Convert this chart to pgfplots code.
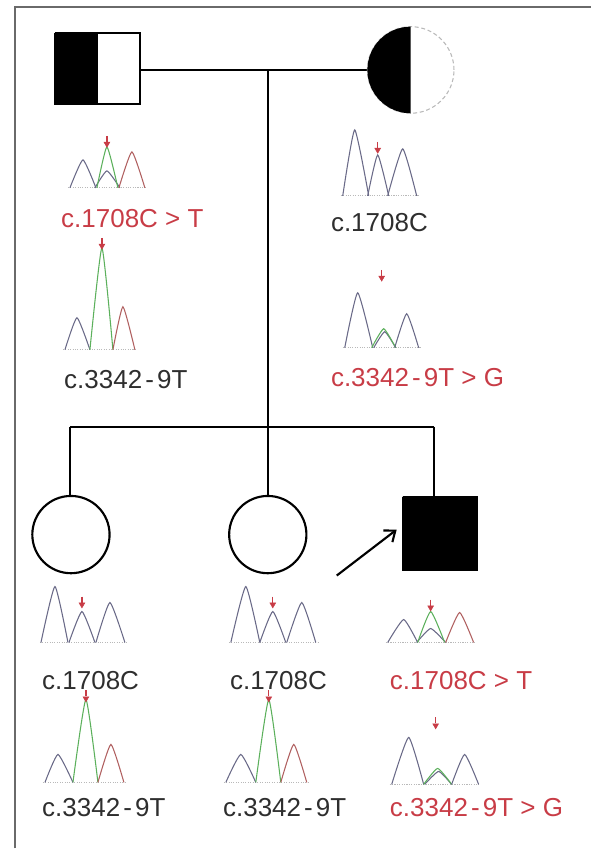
\documentclass[border=0pt]{standalone}
\usepackage{pgfplots}
\pgfplotsset{compat=1.18}
\usetikzlibrary{arrows.meta}
\usepackage{fontspec}
\setmainfont{Liberation Sans}
\definecolor{txt}{HTML}{2E2E2E}
\definecolor{mred}{HTML}{C83C46}
\definecolor{trgray}{HTML}{6A6A88}
\definecolor{trgreen}{HTML}{5CB05C}
\definecolor{trred}{HTML}{B06060}
\definecolor{framec}{HTML}{6A6A6A}
\pgfplotsset{
  peak/.style={line width=0.8pt, smooth, tension=0.3, no marks},
  gp/.style={peak, draw=trgray},
  gn/.style={peak, draw=trgreen},
  rp/.style={peak, draw=trred},
  ped/.style={no marks, draw=black, line width=1.6pt},
}
\tikzset{lab/.style={anchor=west, inner sep=0pt, font=\fontsize{19.5}{22}\selectfont}}
\newcommand{\dash}{\kern0.12em-\kern0.12em}
\begin{document}
\begin{tikzpicture}
\begin{axis}[x=0.75pt, y=0.75pt, y dir=reverse, xmin=0, xmax=591, ymin=0, ymax=849,
  hide axis, clip=false, scale only axis, unbounded coords=jump]
% bounding box
\addplot[draw=none, no marks] coordinates {(0,0) (591,849)};
% frame
\addplot[no marks, draw=framec, line width=1pt] coordinates {(15,849) (15,7) (591,7)};

% ---------------- pedigree ----------------
\addplot[ped] coordinates {(140,70) (370,70) (nan,nan) (268,70) (268,497) (nan,nan)
  (70,427) (434,427) (nan,nan) (70,427) (70,497) (nan,nan) (434,427) (434,497)};
% father
\addplot[ped, fill=white] coordinates {(55,33) (140,33) (140,104) (55,104) (55,33)};
\addplot[no marks, draw=black, fill=black, line width=0.5pt] coordinates {(55,33) (97,33) (97,104) (55,104) (55,33)};
% mother
\draw[gray!55, line width=0.8pt, densely dashed] (axis cs:411,70) circle[radius=32.5pt];
\fill[black] (axis cs:411,26.7) arc[start angle=90, end angle=270, radius=32.5pt] -- cycle;
% daughters
\draw[black, line width=1.6pt] (axis cs:71,535) circle[radius=29pt];
\draw[black, line width=1.6pt] (axis cs:268,535) circle[radius=29pt];
% proband
\addplot[ped, fill=black] coordinates {(403,497) (477,497) (477,570) (403,570) (403,497)};
\addplot[no marks, black, line width=1.6pt, -{Straight Barb[length=7pt, width=11pt, line width=1.6pt]}]
  coordinates {(337,576) (397,530)};

% ---------------- chromatogram baselines ----------------
\addplot[no marks, draw=gray!55, line width=0.8pt, densely dotted] coordinates {
 (68,188) (147,188) (nan,nan) (63,350) (137,350) (nan,nan)
 (341,196) (419,196) (nan,nan) (343,348) (421,348) (nan,nan)
 (40,643) (127,643) (nan,nan) (43,783) (126,783) (nan,nan)
 (229,643) (318,643) (nan,nan) (224,783) (309,783) (nan,nan)
 (386,643) (476,643) (nan,nan) (390,785) (481,785)};

% ---------------- father ----------------
\addplot[gp] coordinates {(70,188) (83,160) (96,188)};
\addplot[gp] coordinates {(95,188) (107,171) (120,188)};
\addplot[gn] coordinates {(97,188) (107,147) (118,188)};
\addplot[rp] coordinates {(119,188) (132,152) (145,188)};

\addplot[gp] coordinates {(65,350) (77,318) (90,350)};
\addplot[gn] coordinates {(90,350) (102,248) (113,350)};
\addplot[rp] coordinates {(113,350) (123,307) (135,350)};

% ---------------- mother ----------------
\addplot[gp] coordinates {(343,196) (355,130) (369,196)};
\addplot[gp] coordinates {(368,196) (378,155) (389,196)};
\addplot[gp] coordinates {(388,196) (403,149) (417,196)};

\addplot[gp] coordinates {(345,348) (358,293) (373,348)};
\addplot[gp] coordinates {(374,348) (385,332) (396,348)};
\addplot[gn] coordinates {(372,348) (384,329) (396,348)};
\addplot[gp] coordinates {(395,348) (407,314) (419,348)};

% ---------------- daughter 1 ----------------
\addplot[gp] coordinates {(41,643) (55,587) (68,643)};
\addplot[gp] coordinates {(69,643) (82,612) (95,643)};
\addplot[gp] coordinates {(96,643) (110,603) (125,643)};

\addplot[gp] coordinates {(45,783) (58,755) (73,783)};
\addplot[gn] coordinates {(73,783) (86,700) (98,783)};
\addplot[rp] coordinates {(98,783) (111,745) (124,783)};

% ---------------- daughter 2 ----------------
\addplot[gp] coordinates {(231,643) (246,587) (260,643)};
\addplot[gp] coordinates {(260,643) (273,612) (286,643)};
\addplot[gp] coordinates {(287,643) (302,603) (316,643)};

\addplot[gp] coordinates {(226,783) (241,755) (256,783)};
\addplot[gn] coordinates {(256,783) (269,700) (281,783)};
\addplot[rp] coordinates {(281,783) (294,745) (307,783)};

% ---------------- proband ----------------
\addplot[gp] coordinates {(388,643) (404,620) (418,643)};
\addplot[gp] coordinates {(417,643) (431,629) (446,643)};
\addplot[gn] coordinates {(418,643) (431,612) (445,643)};
\addplot[rp] coordinates {(446,643) (460,613) (474,643)};

\addplot[gp] coordinates {(392,785) (409,738) (424,785)};
\addplot[gp] coordinates {(425,785) (439,772) (452,785)};
\addplot[gn] coordinates {(424,785) (438,769) (452,785)};
\addplot[gp] coordinates {(452,785) (465,755) (479,785)};

% ---------------- red arrows ----------------
\addplot[no marks, draw=mred, line width=1pt] coordinates {
 (107,136) (107,142) (nan,nan) (102,238) (102,244) (nan,nan)
 (378,142) (378,148) (nan,nan) (382,270) (382,276) (nan,nan)
 (82,597) (82,603) (nan,nan) (86,691) (86,697) (nan,nan)
 (273,597) (273,603) (nan,nan) (269,691) (269,697) (nan,nan)
 (431,600) (431,606) (nan,nan) (436,718) (436,724)};
\addplot[only marks, mark=triangle*, mark size=2.5pt, color=mred, mark options={rotate=180}] coordinates {
 (107,144) (102,246) (378,150) (382,278) (82,605) (86,699) (273,605) (269,699) (431,608) (436,726)};

% ---------------- labels ----------------
\node[lab, text=mred] at (axis cs:61,219) {c.1708C > T};
\node[lab, text=txt]  at (axis cs:64,380) {c.3342\dash9T};
\node[lab, text=txt]  at (axis cs:331,223) {c.1708C};
\node[lab, text=mred] at (axis cs:331,378) {c.3342\dash9T > G};
\node[lab, text=txt]  at (axis cs:42,681) {c.1708C};
\node[lab, text=txt]  at (axis cs:42,808) {c.3342\dash9T};
\node[lab, text=txt]  at (axis cs:230,681) {c.1708C};
\node[lab, text=txt]  at (axis cs:223,808) {c.3342\dash9T};
\node[lab, text=mred] at (axis cs:390,681) {c.1708C > T};
\node[lab, text=mred] at (axis cs:390,808) {c.3342\dash9T > G};
\end{axis}
\end{tikzpicture}
\end{document}
